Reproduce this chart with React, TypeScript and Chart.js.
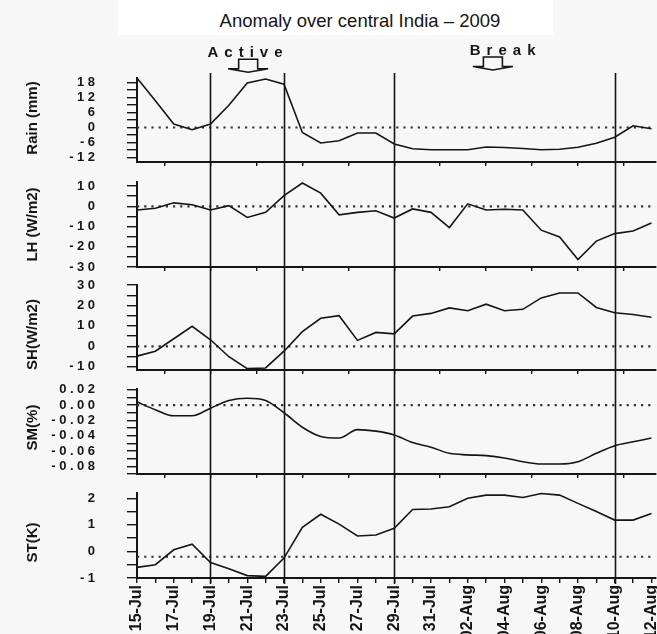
import React, { useEffect, useRef } from 'react';
import { Chart, registerables } from 'chart.js';

Chart.register(...registerables);

// ---------- data ----------
const dates = [
  '15-Jul', '16-Jul', '17-Jul', '18-Jul', '19-Jul', '20-Jul', '21-Jul', '22-Jul', '23-Jul', '24-Jul',
  '25-Jul', '26-Jul', '27-Jul', '28-Jul', '29-Jul', '30-Jul', '31-Jul', '01-Aug', '02-Aug', '03-Aug',
  '04-Aug', '05-Aug', '06-Aug', '07-Aug', '08-Aug', '09-Aug', '10-Aug', '11-Aug', '12-Aug',
];

const rainValues = [19.8, 10.7, 1.4, -0.9, 1.4, 8.9, 17.8, 19.4, 17.3, -2.0, -6.2, -5.3, -2.2, -2.2, -6.6,
  -8.5, -8.9, -8.9, -8.9, -7.8, -8.0, -8.4, -8.9, -8.7, -7.9, -6.3, -3.9, 0.7, -0.5];
const lhValues = [-1.8, -1.0, 1.7, 0.8, -1.8, 0.3, -5.5, -3.0, 5.3, 11.5, 6.5, -4.2, -3.0, -2.2, -5.8,
  -1.3, -3.0, -10.5, 1.2, -1.8, -1.5, -1.8, -11.8, -15.2, -26.3, -17.2, -13.5, -12.2, -8.3];
const shValues = [-4.8, -2.4, 3.7, 9.8, 3.2, -5.1, -10.9, -10.6, -2.4, 7.2, 13.7, 15.0, 2.9, 6.8, 6.1,
  14.8, 16.1, 18.8, 17.4, 20.6, 17.4, 18.1, 23.7, 26.1, 26.1, 19.0, 16.4, 15.6, 14.2];
const smValues = [0.004, -0.006, -0.014, -0.014, -0.004, 0.006, 0.009, 0.006, -0.010, -0.029, -0.041,
  -0.043, -0.032, -0.034, -0.039, -0.049, -0.055, -0.063, -0.065, -0.066, -0.069, -0.074, -0.077,
  -0.077, -0.074, -0.063, -0.053, -0.048, -0.043];
const stValues = [-0.6, -0.5, 0.06, 0.27, -0.42, -0.65, -0.91, -0.94, -0.25, 0.91, 1.4, 1.03, 0.58, 0.62,
  0.87, 1.58, 1.6, 1.68, 2.0, 2.12, 2.12, 2.03, 2.18, 2.12, 1.81, 1.5, 1.18, 1.18, 1.43];

const referenceLevels = [0, 0, 0, 0, -0.2];

const rainTicks = [-12, -9, -6, -3, 0, 3, 6, 9, 12, 15, 18];
const rainTickLabels = ['-12', '', '-6', '', '0', '', '6', '', '12', '', '18'];
const lhTicks = [-30, -25, -20, -15, -10, -5, 0, 5, 10];
const lhTickLabels = ['-30', '', '-20', '', '-10', '', '0', '', '10'];
const shTicks = [-10, -5, 0, 5, 10, 15, 20, 25, 30];
const shTickLabels = ['-10', '', '0', '', '10', '', '20', '', '30'];
const smTicks = [-0.09, -0.08, -0.07, -0.06, -0.05, -0.04, -0.03, -0.02, -0.01, 0, 0.01, 0.02];
const smTickLabels = ['', '-0.08', '', '-0.06', '', '-0.04', '', '-0.02', '', '0.00', '', '0.02'];
const stTicks = [-1, -0.5, 0, 0.5, 1, 1.5, 2];
const stTickLabels = ['-1', '', '0', '', '1', '', '2'];

const upperPanelTickDays = [1.5, 4, 6.5, 9, 11.5, 14, 16.5, 19, 21.5, 24, 26.5];

const eventDates = ['19-Jul', '23-Jul', '29-Jul', '10-Aug'];

const phaseLabels = ['Active', 'Break'];
const phaseTextDays = [5.88, 19.9];
const phaseArrowDays = [6.05, 19.37];

// ---------- layout / style ----------
const FONT = '"Liberation Sans", Arial, Helvetica, sans-serif';
const INK = '#151515';
const BG = '#f7f7f7';
const X_MAX = 28.22;

type Panel = {
  title: string;
  values: number[];
  ticks: number[];
  labels: string[];
  min: number;
  max: number;
  ref: number;
  canvasTop: number;
  canvasHeight: number;
  padTop: number;
  axisHeight: number;
  lineTop: number;
  lineExtra: number;
  titleShift: number;
  bottom: boolean;
  smooth: boolean;
};

const panels: Panel[] = [
  { title: 'Rain (mm)', values: rainValues, ticks: rainTicks, labels: rainTickLabels, min: -13.8, max: 19.8,
    ref: referenceLevels[0], canvasTop: 0, canvasHeight: 168, padTop: 78, axisHeight: 6, lineTop: 73,
    lineExtra: 0, titleShift: -2, bottom: false, smooth: false },
  { title: 'LH (W/m2)', values: lhValues, ticks: lhTicks, labels: lhTickLabels, min: -30, max: 12,
    ref: referenceLevels[1], canvasTop: 162, canvasHeight: 111, padTop: 20, axisHeight: 6, lineTop: 0,
    lineExtra: 0, titleShift: 0, bottom: false, smooth: false },
  { title: 'SH(W/m2)', values: shValues, ticks: shTicks, labels: shTickLabels, min: -11.6, max: 30,
    ref: referenceLevels[2], canvasTop: 267, canvasHeight: 109, padTop: 18, axisHeight: 6, lineTop: 0,
    lineExtra: 0, titleShift: 7, bottom: false, smooth: false },
  { title: 'SM(%)', values: smValues, ticks: smTicks, labels: smTickLabels, min: -0.09, max: 0.021,
    ref: referenceLevels[3], canvasTop: 370, canvasHeight: 110, padTop: 19, axisHeight: 6, lineTop: 0,
    lineExtra: 0, titleShift: -4, bottom: false, smooth: true },
  { title: 'ST(K)', values: stValues, ticks: stTicks, labels: stTickLabels, min: -1, max: 2.2,
    ref: referenceLevels[4], canvasTop: 474, canvasHeight: 160, padTop: 19, axisHeight: 56, lineTop: 0,
    lineExtra: 6, titleShift: 7, bottom: true, smooth: false },
];

function makePlugin(p: Panel, index: number) {
  return {
    id: 'decor' + index,
    beforeDraw(chart: any) {
      chart.ctx.letterSpacing = '3.5px';
    },
    afterDatasetsDraw(chart: any) {
      chart.ctx.letterSpacing = '0px';
    },
    afterDraw(chart: any) {
      const ctx = chart.ctx;
      const xs = chart.scales.x;
      const area = chart.chartArea;
      ctx.save();
      ctx.letterSpacing = '0px';
      // event vertical lines
      ctx.strokeStyle = INK;
      ctx.lineWidth = 1.6;
      eventDates.forEach((d) => {
        const x = Math.round(xs.getPixelForValue(dates.indexOf(d))) + 0.5;
        ctx.beginPath();
        ctx.moveTo(x, p.lineTop);
        ctx.lineTo(x, area.bottom + p.lineExtra);
        ctx.stroke();
      });
      // axis title
      ctx.save();
      ctx.translate(33, (area.top + area.bottom) / 2 + p.titleShift);
      ctx.rotate(-Math.PI / 2);
      ctx.font = `bold 15px ${FONT}`;
      ctx.fillStyle = INK;
      ctx.textAlign = 'center';
      ctx.textBaseline = 'middle';
      ctx.fillText(p.title, 0, 0);
      ctx.restore();

      if (index === 0) {
        const baselines = [57.3, 55];
        phaseLabels.forEach((label, k) => {
          const spacing = 6;
          const tx = xs.getPixelForValue(phaseTextDays[k]);
          ctx.save();
          ctx.letterSpacing = spacing + 'px';
          ctx.font = `bold 15px ${FONT}`;
          ctx.fillStyle = INK;
          ctx.textAlign = 'center';
          ctx.textBaseline = 'alphabetic';
          ctx.fillText(label, tx + spacing / 2, baselines[k]);
          ctx.restore();

          const ax = xs.getPixelForValue(phaseArrowDays[k]);
          const top = baselines[k] + 2;
          const head = top + 9.5;
          const tip = head + 3.5;
          const sw = 9.5;
          const hw = 20;
          ctx.beginPath();
          ctx.moveTo(ax - sw, top);
          ctx.lineTo(ax - sw, head);
          ctx.lineTo(ax - hw, head);
          ctx.lineTo(ax, tip);
          ctx.lineTo(ax + hw, head);
          ctx.lineTo(ax + sw, head);
          ctx.lineTo(ax + sw, top);
          ctx.closePath();
          ctx.lineWidth = 1.6;
          ctx.strokeStyle = INK;
          ctx.stroke();
        });
      }
      ctx.restore();
    },
  };
}

function buildConfig(p: Panel, index: number): any {
  return {
    type: 'line',
    data: {
      datasets: [
        {
          data: p.values.map((v, i) => ({ x: i, y: v })),
          borderColor: INK,
          borderWidth: 1.6,
          pointRadius: 0,
          fill: false,
          tension: p.smooth ? 0.3 : 0,
          cubicInterpolationMode: p.smooth ? 'monotone' : 'default',
          clip: 4,
        },
        {
          data: [{ x: 0, y: p.ref }, { x: X_MAX, y: p.ref }],
          borderColor: '#333',
          borderWidth: 2.2,
          borderDash: [2.2, 5],
          pointRadius: 0,
          fill: false,
        },
      ],
    },
    options: {
      responsive: false,
      animation: false,
      devicePixelRatio: 1,
      events: [],
      layout: { padding: { top: p.padTop, left: 0, right: 1.5, bottom: 0 } },
      plugins: {
        legend: { display: false },
        tooltip: { enabled: false },
        title: { display: false },
      },
      scales: {
        x: {
          type: 'linear',
          min: 0,
          max: X_MAX,
          afterBuildTicks: (s: any) => {
            s.ticks = (p.bottom ? dates.map((_, i) => i) : upperPanelTickDays).map((v) => ({ value: v }));
          },
          afterFit: (s: any) => {
            s.height = p.axisHeight;
            s.paddingLeft = 0;
            s.paddingRight = 0;
          },
          grid: {
            drawOnChartArea: false,
            drawTicks: true,
            tickLength: p.bottom ? 5 : 4,
            color: INK,
            lineWidth: 1.4,
          },
          border: { display: true, color: INK, width: 2 },
          ticks: {
            display: p.bottom,
            autoSkip: false,
            maxRotation: 90,
            minRotation: 90,
            padding: 2,
            z: 1,
            color: INK,
            font: { family: FONT, size: 16, weight: 'bold' },
            callback: (_v: any, i: number) => (i % 2 === 0 ? dates[i] : ''),
          },
        },
        y: {
          type: 'linear',
          min: p.min,
          max: p.max,
          afterBuildTicks: (s: any) => {
            s.ticks = p.ticks.map((v) => ({ value: v }));
          },
          afterFit: (s: any) => {
            s.width = 137;
            s.paddingTop = 0;
            s.paddingBottom = 0;
          },
          grid: {
            drawOnChartArea: false,
            drawTicks: true,
            tickLength: 10,
            color: INK,
            lineWidth: 1.4,
          },
          border: { display: true, color: INK, width: 2 },
          ticks: {
            autoSkip: false,
            padding: 28.5,
            color: INK,
            font: { family: FONT, size: 13, weight: 'bold' },
            callback: (_v: any, i: number) => p.labels[i],
          },
        },
      },
    },
    plugins: [makePlugin(p, index)],
  };
}

export default function App() {
  const refs = useRef<(HTMLCanvasElement | null)[]>([]);

  useEffect(() => {
    const charts = panels.map((p, i) => new Chart(refs.current[i] as HTMLCanvasElement, buildConfig(p, i)));
    return () => charts.forEach((c) => c.destroy());
  }, []);

  return (
    <div
      style={{
        position: 'absolute',
        left: 0,
        top: 0,
        width: 657,
        height: 634,
        overflow: 'hidden',
        background: BG,
      }}
    >
      <div style={{ position: 'absolute', left: 118, top: 0, width: 435, height: 35, background: '#ffffff' }} />
      <div
        style={{
          position: 'absolute',
          left: 160,
          top: 10.5,
          width: 400,
          textAlign: 'center',
          fontFamily: FONT,
          fontSize: '18.5px',
          lineHeight: '20px',
          color: INK,
          whiteSpace: 'nowrap',
        }}
      >
        Anomaly over central India – 2009
      </div>
      {panels.map((p, i) => (
        <canvas
          key={i}
          ref={(el) => {
            refs.current[i] = el;
          }}
          width={657}
          height={p.canvasHeight}
          style={{ position: 'absolute', left: 0, top: p.canvasTop, width: 657, height: p.canvasHeight }}
        />
      ))}
    </div>
  );
}
